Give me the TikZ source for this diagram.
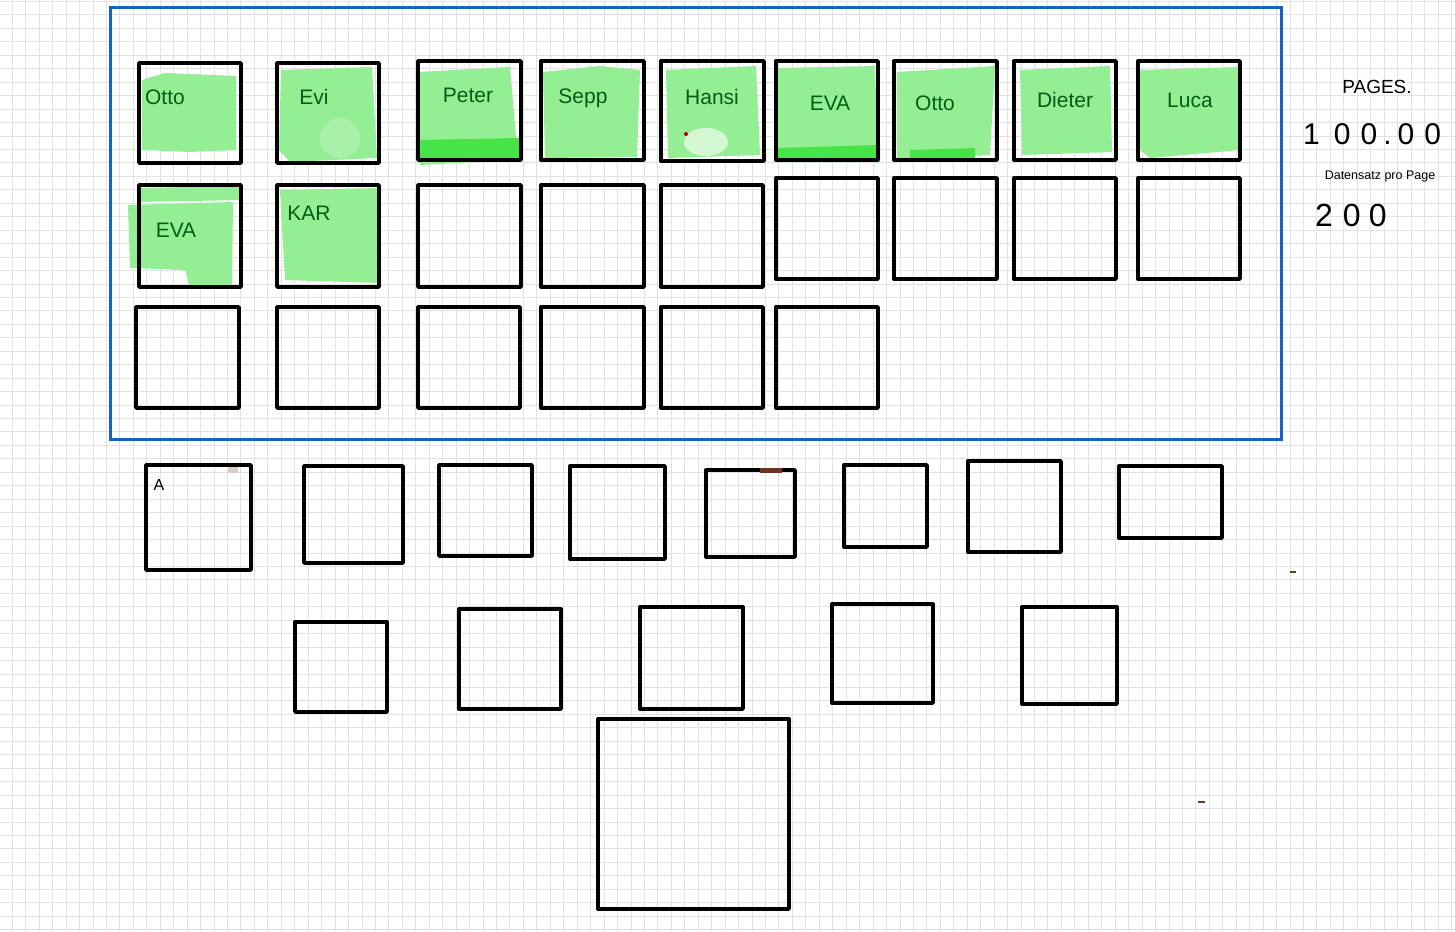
\documentclass[tikz,border=0pt]{standalone}
\usepackage{fontspec}
\setmainfont{Liberation Sans}
\definecolor{gridc}{RGB}{226,226,226}
\definecolor{frameblue}{RGB}{21,101,192}
\definecolor{hl}{RGB}{148,238,148}
\definecolor{hlb}{RGB}{70,228,70}
\definecolor{ink}{RGB}{0,95,20}
\definecolor{tanm}{RGB}{222,205,192}
\definecolor{brownm}{RGB}{110,50,30}
\tikzset{
  box/.style={draw=black, line width=3.4pt, line join=round, inner sep=0pt, outer sep=0pt},
  hname/.style={text=ink, font=\fontsize{21}{21}\selectfont, inner sep=0pt},
  note/.style={text=black, inner sep=0pt},
}
\newcommand\mybox[5]{\node[box, minimum width={(#4-#2)*1pt}, minimum height={(#5-#3)*1pt}] (#1) at ({(#2+#4)/2},{(#3+#5)/2}) {};}
\begin{document}
\begin{tikzpicture}[x=1pt,y=-1pt]
\useasboundingbox (0,0) rectangle (1455,931);
\fill[white] (0,0) rectangle (1455,931);
\foreach \i in {0,...,108} \draw[gridc, line width=1pt] ({12.3+\i*13.45},0) -- ++(0,931);
\foreach \i in {0,...,69} \draw[gridc, line width=1pt] (0,{1.55+\i*13.45}) -- ++(1455,0);

% frame
\node[draw=frameblue, line width=3pt, inner sep=0pt, minimum width=1171pt, minimum height=431pt] (frame) at (695.5,223.5) {};

% highlights
\fill[hl] (142,80) -- (165,73) -- (236,76) -- (236,150) -- (190,152) -- (142,150) -- cycle;
\fill[hl] (281,70) -- (372,67) -- (377,158) -- (290,162) -- (279,150) -- cycle;
\fill[hl!80!white] (340,138) circle (20);
\fill[hl] (418,72) -- (510,67) -- (518,160) -- (420,165) -- cycle;
\fill[hlb] (418,140) -- (520,138) -- (521,158) -- (420,162) -- cycle;
\fill[hl] (543,72) -- (600,66) -- (640,70) -- (637,157) -- (545,158) -- cycle;
\fill[hl] (666,70) -- (756,66) -- (760,155) -- (668,158) -- cycle;
\fill[white!60!hl] (706,142) ellipse (22 and 14);
\fill[hl] (778,68) -- (875,66) -- (878,155) -- (778,158) -- cycle;
\fill[hlb] (778,148) -- (880,145) -- (880,162) -- (778,162) -- cycle;
\fill[hl] (897,72) -- (995,66) -- (990,155) -- (897,160) -- cycle;
\fill[hlb] (910,150) -- (975,148) -- (975,160) -- (910,162) -- cycle;
\fill[hl] (1020,70) -- (1110,66) -- (1112,152) -- (1022,155) -- cycle;
\fill[hl] (1140,70) -- (1238,67) -- (1240,150) -- (1150,158) -- (1140,150) -- cycle;
\fill[hl] (140,188) -- (240,186) -- (240,200) -- (140,202) -- cycle;
\fill[hl] (128,205) -- (233,202) -- (232,285) -- (190,287) -- (185,270) -- (130,268) -- cycle;
\fill[hl] (280,190) -- (380,188) -- (380,283) -- (285,280) -- cycle;

% row 1
\mybox{r1c1}{139}{63}{241}{163}
\mybox{r1c2}{277}{63}{379}{163}
\mybox{r1c3}{418}{61}{521}{160}
\mybox{r1c4}{541}{61}{644}{160}
\mybox{r1c5}{661}{61}{764}{161}
\mybox{r1c6}{776}{61}{878}{160}
\mybox{r1c7}{894}{61}{997}{160}
\mybox{r1c8}{1014}{61}{1116}{160}
\mybox{r1c9}{1138}{61}{1240}{160}
% row 2
\mybox{r2c1}{139}{185}{241}{287}
\mybox{r2c2}{277}{185}{379}{287}
\mybox{r2c3}{418}{185}{521}{287}
\mybox{r2c4}{541}{185}{644}{287}
\mybox{r2c5}{661}{185}{763}{287}
\mybox{r2c6}{776}{178}{878}{279}
\mybox{r2c7}{894}{178}{997}{279}
\mybox{r2c8}{1014}{178}{1116}{279}
\mybox{r2c9}{1138}{178}{1240}{279}
% row 3
\mybox{r3c1}{136}{307}{239}{408}
\mybox{r3c2}{277}{307}{379}{408}
\mybox{r3c3}{418}{307}{520}{408}
\mybox{r3c4}{541}{307}{644}{408}
\mybox{r3c5}{661}{307}{763}{408}
\mybox{r3c6}{776}{307}{878}{408}
% row 4
\mybox{r4c1}{146}{465}{251}{570}
\mybox{r4c2}{304}{466}{403}{563}
\mybox{r4c3}{439}{465}{532}{556}
\mybox{r4c4}{570}{466}{665}{559}
\mybox{r4c5}{706}{470}{795}{557}
\mybox{r4c6}{844}{465}{927}{547}
\mybox{r4c7}{968}{461}{1061}{552}
\mybox{r4c8}{1119}{466}{1222}{538}
% row 5
\mybox{r5c1}{295}{622}{387}{712}
\mybox{r5c2}{459}{609}{561}{709}
\mybox{r5c3}{640}{607}{743}{709}
\mybox{r5c4}{832}{604}{933}{703}
\mybox{r5c5}{1022}{607}{1117}{704}
% big
\mybox{big}{598}{719}{789}{909}

% names
\node[hname] (n1) at (165,97) {Otto};
\node[hname] (n2) at (314,97) {Evi};
\node[hname] (n3) at (468,95) {Peter};
\node[hname] (n4) at (583,98) {Sepp};
\node[hname] (n5) at (712,97) {Hansi};
\node[hname] (n6) at (830,103) {EVA};
\node[hname] (n7) at (935,103) {Otto};
\node[hname] (n8) at (1065,100) {Dieter};
\node[hname] (n9) at (1190,100) {Luca};
\node[hname] (n10) at (176,230) {EVA};
\node[hname] (n11) at (309,213) {KAR};
\node[note, font=\fontsize{16}{16}\selectfont] (nA) at (159,485) {A};

% small marks
\fill[tanm] (228,467) rectangle (238,473);
\fill[brownm] (760,468) rectangle (782,473);
\fill[red!70!black] (686,134) circle (2);
\fill[brownm] (1290,571) rectangle (1296,573);
\fill[brownm] (1198,801) rectangle (1205,803);

% right-hand notes
\node[note, font=\fontsize{19}{19}\selectfont] (pages) at (1377,87) {PAGES.};
\node[note, font=\fontsize{30}{30}\selectfont, anchor=west] (num) at (1303,134) {1\hspace{14pt}0\hspace{10pt}0\hspace{6pt}.\hspace{6pt}0\hspace{10pt}0};
\node[note, font=\fontsize{12.5}{12.5}\selectfont] (ds) at (1380,176) {Datensatz pro Page};
\node[note, font=\fontsize{32}{32}\selectfont, anchor=west] (two) at (1315,215) {2\hspace{10pt}0\hspace{8pt}0};
\end{tikzpicture}
\end{document}
